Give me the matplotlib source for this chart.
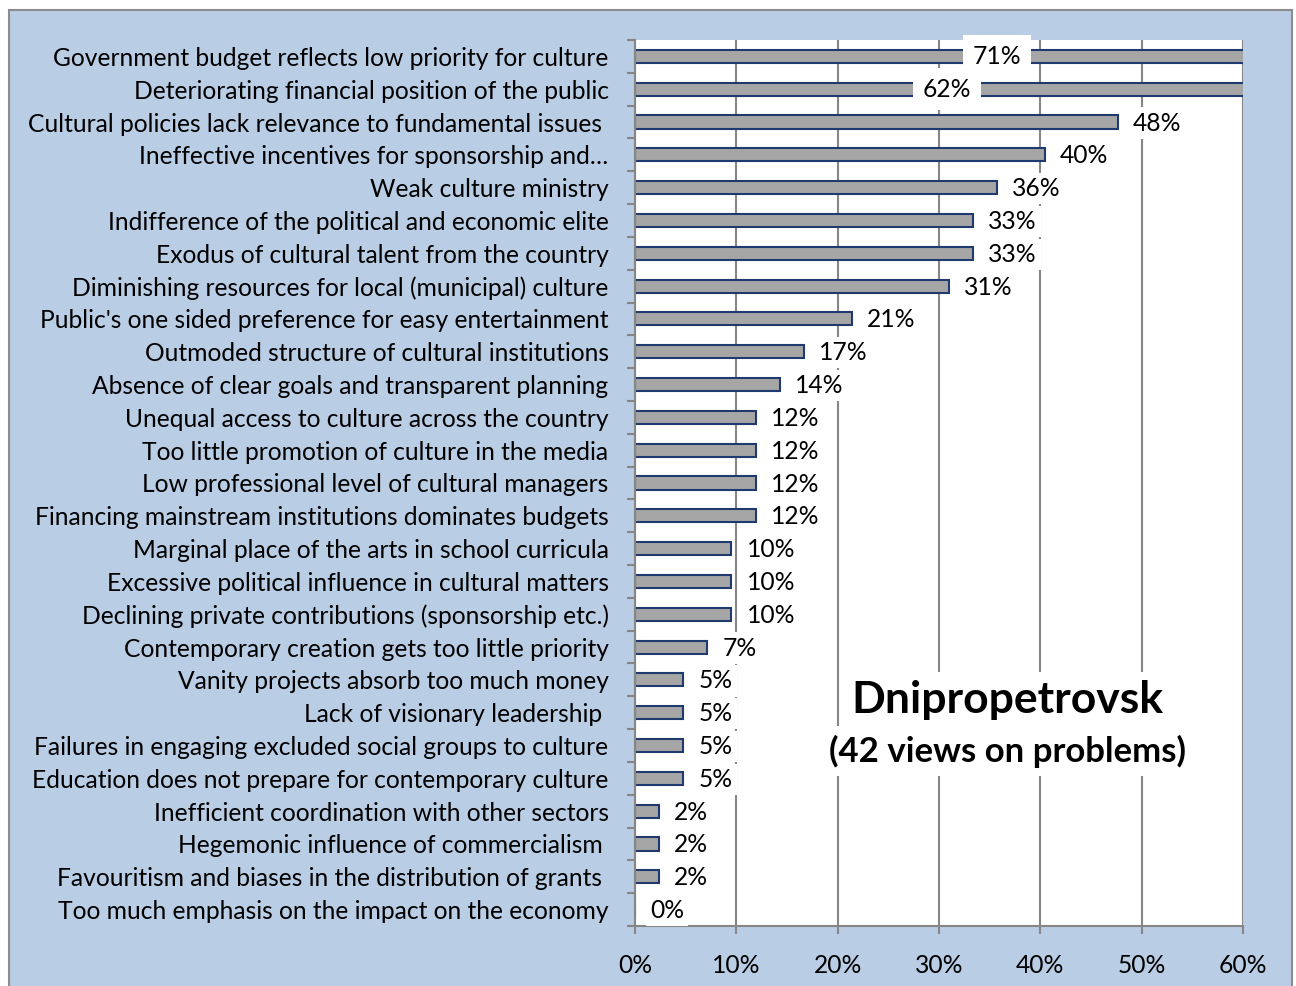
import matplotlib.pyplot as plt
from matplotlib.patches import Rectangle

plt.rcParams['font.family'] = ['Lato', 'DejaVu Sans']

problems = [
    "Government budget reflects low priority for culture",
    "Deteriorating financial position of the public",
    "Cultural policies lack relevance to fundamental issues ",
    "Ineffective incentives for sponsorship and\u2026",
    "Weak culture ministry",
    "Indifference of the political and economic elite",
    "Exodus of cultural talent from the country",
    "Diminishing resources for local (municipal) culture",
    "Public's one sided preference for easy entertainment",
    "Outmoded structure of cultural institutions",
    "Absence of clear goals and transparent planning",
    "Unequal access to culture across the country",
    "Too little promotion of culture in the media",
    "Low professional level of cultural managers",
    "Financing mainstream institutions dominates budgets",
    "Marginal place of the arts in school curricula",
    "Excessive political influence in cultural matters",
    "Declining private contributions (sponsorship etc.)",
    "Contemporary creation gets too little priority",
    "Vanity projects absorb too much money",
    "Lack of visionary leadership ",
    "Failures in engaging excluded social groups to culture",
    "Education does not prepare for contemporary culture",
    "Inefficient coordination with other sectors",
    "Hegemonic influence of commercialism ",
    "Favouritism and biases in the distribution of grants ",
    "Too much emphasis on the impact on the economy",
]
# share of the 42 views, in percent
shares = [71.43, 61.90, 47.62, 40.48, 35.71, 33.33, 33.33, 30.95, 21.43,
          16.67, 14.29, 11.90, 11.90, 11.90, 11.90, 9.52, 9.52, 9.52, 7.14,
          4.76, 4.76, 4.76, 4.76, 2.38, 2.38, 2.38, 0.0]
# where the labels of the bars running past the axis end are put
overflow_label_x = {0: 35.7, 1: 30.8}
xticks = [0, 10, 20, 30, 40, 50, 60]

FS = 17.75

W, H = 1296, 986
fig = plt.figure(figsize=(W / 100, H / 100), dpi=100, facecolor='white')
fig.patches.append(Rectangle((9 / W, -0.01), (1292 - 9) / W, 1.01 - 10 / H,
                             transform=fig.transFigure, facecolor='#B9CDE5',
                             edgecolor='#8C8C8C', linewidth=1.5, zorder=-10))

ax = fig.add_axes([635 / W, 1 - 926 / H, (1243 - 635) / W, 886 / H])
ax.set_facecolor('white')

y = list(range(len(problems)))
ax.barh(y, shares, height=0.4, color='#A6A6A6', edgecolor='#1F3A6E',
        linewidth=1.5, zorder=2)

ax.set_xlim(0, 60)
ax.set_ylim(len(problems) - 0.5, -0.5)
ax.set_xticks(xticks)
ax.set_xticklabels([f"{t}%" for t in xticks], fontsize=FS)
ax.set_yticks(y)
ax.set_yticklabels(problems, fontsize=FS)
ax.set_yticks([i - 0.5 for i in range(len(problems) + 1)], minor=True)
ax.tick_params(axis='y', which='major', length=0, pad=19)
ax.tick_params(axis='y', which='minor', length=6, color='#868686', width=1.5)
ax.tick_params(axis='x', length=6, color='#868686', width=1.5, pad=14)

for s in ['top', 'right']:
    ax.spines[s].set_visible(False)
for s in ['left', 'bottom']:
    ax.spines[s].set_color('#868686')
    ax.spines[s].set_linewidth(1.5)

ax.grid(axis='x', color='#868686', linewidth=1.5, zorder=0)
ax.set_axisbelow(True)

box = dict(facecolor='white', edgecolor='none', pad=3)
for i, v in enumerate(shares):
    label = f"{v:.0f}%"
    if i in overflow_label_x:
        ax.text(overflow_label_x[i], i, label, ha='center', va='center',
                fontsize=FS, bbox=dict(facecolor='white', edgecolor='none', pad=7),
                zorder=4)
    else:
        ax.annotate(label, (v, i), xytext=(15, -1), textcoords='offset pixels',
                    ha='left', va='center', fontsize=FS, bbox=box, zorder=4)

ax.text(0.613, 0.255, "Dnipropetrovsk", transform=ax.transAxes, ha='center',
        va='center', fontsize=32, fontweight='bold',
        bbox=dict(facecolor='white', edgecolor='none', pad=6), zorder=4)
ax.text(0.613, 0.1975, "(42 views on problems)", transform=ax.transAxes,
        ha='center', va='center', fontsize=25, fontweight='bold',
        bbox=dict(facecolor='white', edgecolor='none', pad=6), zorder=4)

fig.savefig('out.png', dpi=100, facecolor=fig.get_facecolor())
